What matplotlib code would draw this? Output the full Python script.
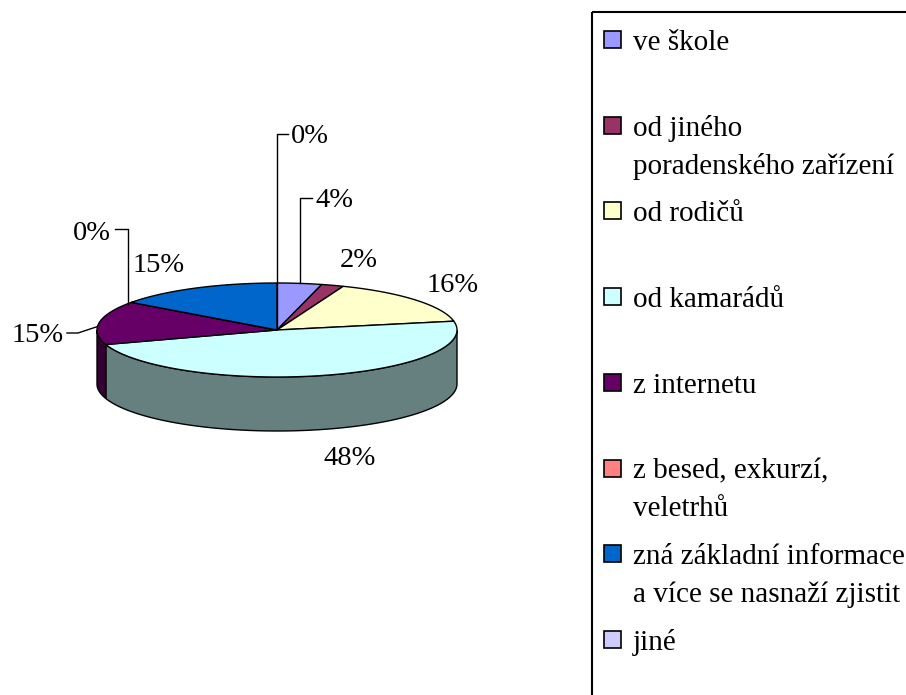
import numpy as np
import matplotlib
matplotlib.use("Agg")
import matplotlib.pyplot as plt
from matplotlib.patches import Polygon, Rectangle

# data
categories = [
    "ve škole",
    "od jiného\nporadenského zařízení",
    "od rodičů",
    "od kamarádů",
    "z internetu",
    "z besed, exkurzí,\nveletrhů",
    "zná základní informace\na více se nasnaží zjistit",
    "jiné",
]
values = [4, 2, 16, 48, 15, 0, 15, 0]
colors = ["#9999FF", "#993366", "#FFFFCC", "#CCFFFF",
          "#660066", "#FF8080", "#0066CC", "#CCCCFF"]

# layout (pixel space of the 906x695 figure)
CX, CY = 277, 330        # centre of the top face
RX, RY = 180, 47         # ellipse radii
DEPTH = 54               # thickness of the pie
FONT = "Liberation Serif"

# label placement: (left x, baseline y, leader kind)
label_pos = [
    (315, 207, "up"),
    (340, 267, None),
    (427, 292, None),
    (323, 465, None),
    (12, 342, "side"),
    (73, 240, "up_left"),
    (133, 272, None),
    (291, 143, "up"),
]


def ell(t_deg, dy=0.0):
    t = np.radians(t_deg)
    return CX + RX * np.cos(t), CY - RY * np.sin(t) + dy


fig = plt.figure(figsize=(9.06, 6.95), dpi=100)
ax = fig.add_axes([0, 0, 1, 1])
ax.set_xlim(0, 906)
ax.set_ylim(695, 0)
ax.axis("off")

total = float(sum(values))
starts, ends = [], []
t = 90.0
for v in values:
    starts.append(t)
    t -= v / total * 360.0
    ends.append(t)

# outer walls (front half only)
for v, c, t0, t1 in zip(values, colors, starts, ends):
    a, b = max(t1, -180.0), min(t0, 0.0)
    if b <= a:
        continue
    ts = np.linspace(a, b, 60)
    xt, yt = ell(ts)
    xb, yb = ell(ts, DEPTH)
    pts = np.column_stack([np.r_[xt, xb[::-1]], np.r_[yt, yb[::-1]]])
    rgb = np.array(matplotlib.colors.to_rgb(c)) * 0.5
    ax.add_patch(Polygon(pts, closed=True, facecolor=rgb,
                         edgecolor="black", linewidth=1, zorder=2))

# top faces
for v, c, t0, t1 in zip(values, colors, starts, ends):
    ts = np.linspace(t0, t1, max(int(abs(t0 - t1)) + 2, 2))
    xs, ys = ell(ts)
    pts = np.column_stack([np.r_[CX, xs], np.r_[CY, ys]])
    ax.add_patch(Polygon(pts, closed=True, facecolor=c,
                         edgecolor="black", linewidth=1, zorder=3))

# percentage labels with leader lines
for v, t0, t1, (lx, ly, kind) in zip(values, starts, ends, label_pos):
    ax.text(lx, ly, f"{v}%", fontsize=20.5, family=FONT,
            ha="left", va="baseline", zorder=5)
    if kind is None:
        continue
    axp, ayp = ell((t0 + t1) / 2)
    line_y = ly - 9
    if kind == "up":
        xs = [axp, axp, lx - 3]
        ys = [ayp, line_y, line_y]
    elif kind == "up_left":
        xs = [axp - 3, axp - 3, lx + 42]
        ys = [ayp + 2, line_y - 2, line_y - 2]
    else:
        xs = [axp - 2, lx + 66, lx + 55]
        ys = [ayp + 4, line_y, line_y]
    ax.plot(xs, ys, color="black", linewidth=1, zorder=4)

# legend
ax.add_patch(Rectangle((592, 12), 400, 800, facecolor="none",
                       edgecolor="black", linewidth=1.5, zorder=1))
for i, (lab, c) in enumerate(zip(categories, colors)):
    base = 50 + i * 85.7
    ax.add_patch(Rectangle((604, base - 19), 17, 17, facecolor=c,
                           edgecolor="black", linewidth=1.2, zorder=5))
    for j, line in enumerate(lab.split("\n")):
        ax.text(633, base + j * 38, line, fontsize=21, family=FONT,
                ha="left", va="baseline", zorder=5)

fig.savefig("out.png", dpi=100)
